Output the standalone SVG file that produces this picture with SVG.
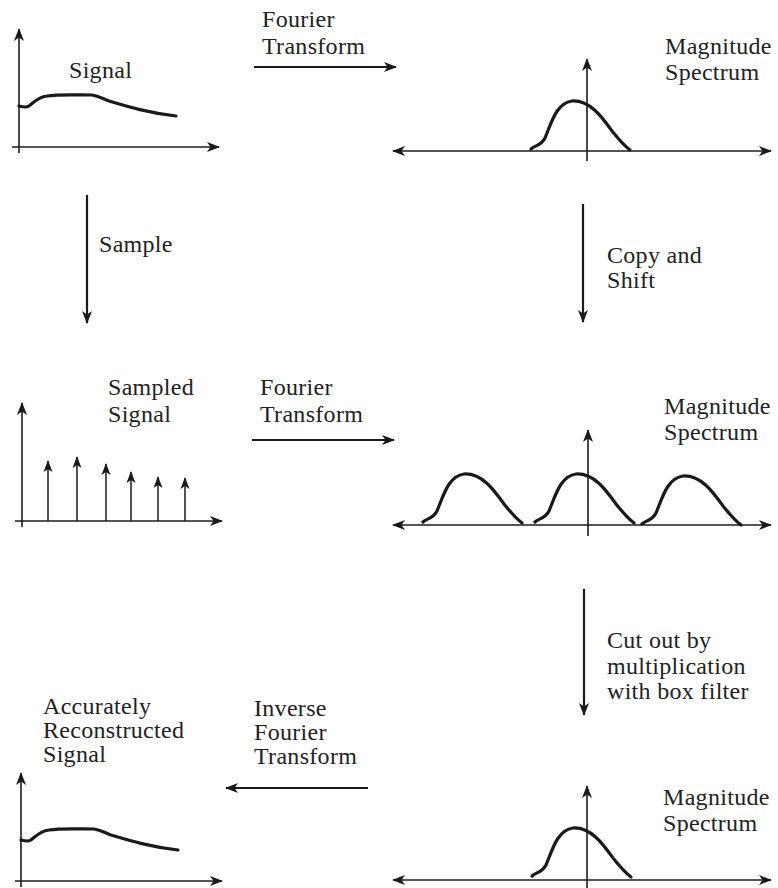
<svg xmlns="http://www.w3.org/2000/svg" width="778" height="888" viewBox="0 0 778 888">
<style>
  .t { font-family: "Liberation Serif", "Times New Roman", serif; font-size: 24px; letter-spacing: 0.3px; fill: #222; }
  .ax { stroke: #1c1c1c; stroke-width: 1.6; fill: none; }
  .cv { stroke: #1a1a1a; stroke-width: 3.2; fill: none; stroke-linecap: round; stroke-linejoin: round; }
  .cn { stroke: #1a1a1a; stroke-width: 2.2; fill: none; }
  .sm { stroke: #1c1c1c; stroke-width: 1.5; fill: none; }
</style>
<defs>
  <marker id="ah" markerWidth="14" markerHeight="10" refX="12" refY="5" orient="auto-start-reverse" markerUnits="userSpaceOnUse">
    <path d="M0,0 L13,5 L0,10 L3.5,5 Z" fill="#1a1a1a"/>
  </marker>
  <marker id="ahs" markerWidth="12" markerHeight="10" refX="11" refY="5" orient="auto-start-reverse" markerUnits="userSpaceOnUse">
    <path d="M0,0.5 L12,5 L0,9.5 L3,5 Z" fill="#1a1a1a"/>
  </marker>
  <path id="bump" d="M0,0 C4,-4 10,-3 14,-11 C20,-25 25,-46 41,-48 C59,-49 71,-32 81,-18 C89,-8 95,-2 99,1"/>
  <path id="sig" d="M0,0 C4,1 7,2 10,0 C15,-4 19,-9 28,-10 C40,-12 60,-11 73,-11 C80,-10 84,-7 90,-5 C110,1 130,7 157,10"/>
</defs>

<g id="signal">
  <line class="ax" x1="19" y1="153" x2="19" y2="29" marker-end="url(#ah)"/>
  <line class="ax" x1="12" y1="147" x2="219" y2="147" marker-end="url(#ah)"/>
  <use href="#sig" class="cv" x="19" y="106"/>
  <text class="t" x="69" y="78">Signal</text>
</g>

<g id="spectrum1">
  <line class="ax" x1="393" y1="151" x2="771" y2="151" marker-start="url(#ah)" marker-end="url(#ah)"/>
  <line class="ax" x1="587" y1="161" x2="587" y2="59" marker-end="url(#ah)"/>
  <use href="#bump" class="cv" x="531" y="149"/>
  <text class="t" x="665" y="54">Magnitude</text>
  <text class="t" x="665" y="80">Spectrum</text>
</g>

<g id="sampled">
  <line class="ax" x1="22" y1="527" x2="22" y2="403" marker-end="url(#ah)"/>
  <line class="ax" x1="15" y1="521" x2="222" y2="521" marker-end="url(#ah)"/>
  <line class="sm" x1="48" y1="521" x2="48" y2="461" marker-end="url(#ahs)"/>
  <line class="sm" x1="77" y1="521" x2="77" y2="457" marker-end="url(#ahs)"/>
  <line class="sm" x1="106" y1="521" x2="106" y2="464" marker-end="url(#ahs)"/>
  <line class="sm" x1="131" y1="521" x2="131" y2="472" marker-end="url(#ahs)"/>
  <line class="sm" x1="158" y1="521" x2="158" y2="477" marker-end="url(#ahs)"/>
  <line class="sm" x1="185" y1="521" x2="185" y2="478" marker-end="url(#ahs)"/>
  <text class="t" x="108" y="395">Sampled</text>
  <text class="t" x="108" y="422">Signal</text>
</g>

<g id="spectrum2">
  <line class="ax" x1="393" y1="525" x2="771" y2="525" marker-start="url(#ah)" marker-end="url(#ah)"/>
  <line class="ax" x1="588" y1="536" x2="588" y2="430" marker-end="url(#ah)"/>
  <use href="#bump" class="cv" x="423" y="522"/>
  <use href="#bump" class="cv" x="535" y="522"/>
  <use href="#bump" class="cv" x="642" y="524"/>
  <text class="t" x="664" y="414">Magnitude</text>
  <text class="t" x="664" y="440">Spectrum</text>
</g>

<g id="reconstructed">
  <line class="ax" x1="21" y1="887" x2="21" y2="773" marker-end="url(#ah)"/>
  <line class="ax" x1="15" y1="881" x2="222" y2="881" marker-end="url(#ah)"/>
  <use href="#sig" class="cv" x="21" y="840"/>
  <text class="t" x="43" y="714">Accurately</text>
  <text class="t" x="43" y="738">Reconstructed</text>
  <text class="t" x="43" y="762">Signal</text>
</g>

<g id="spectrum3">
  <line class="ax" x1="393" y1="880" x2="771" y2="880" marker-start="url(#ah)" marker-end="url(#ah)"/>
  <line class="ax" x1="587" y1="890" x2="587" y2="786" marker-end="url(#ah)"/>
  <use href="#bump" class="cv" x="532" y="876"/>
  <text class="t" x="663" y="805">Magnitude</text>
  <text class="t" x="663" y="831">Spectrum</text>
</g>

<g id="connectors">
  <line class="cn" x1="254" y1="67" x2="396" y2="67" marker-end="url(#ah)"/>
  <text class="t" x="262" y="27">Fourier</text>
  <text class="t" x="262" y="54">Transform</text>

  <line class="cn" x1="87" y1="195" x2="87" y2="323" marker-end="url(#ah)"/>
  <text class="t" x="99" y="252">Sample</text>

  <line class="cn" x1="583" y1="204" x2="583" y2="322" marker-end="url(#ah)"/>
  <text class="t" x="607" y="263">Copy and</text>
  <text class="t" x="607" y="288">Shift</text>

  <line class="cn" x1="252" y1="440" x2="394" y2="440" marker-end="url(#ah)"/>
  <text class="t" x="260" y="395">Fourier</text>
  <text class="t" x="260" y="422">Transform</text>

  <line class="cn" x1="584" y1="589" x2="584" y2="715" marker-end="url(#ah)"/>
  <text class="t" x="607" y="648">Cut out by</text>
  <text class="t" x="607" y="674">multiplication</text>
  <text class="t" x="607" y="699">with box filter</text>

  <line class="cn" x1="368" y1="788" x2="226" y2="788" marker-end="url(#ah)"/>
  <text class="t" x="254" y="716">Inverse</text>
  <text class="t" x="254" y="740">Fourier</text>
  <text class="t" x="254" y="764">Transform</text>
</g>
</svg>
